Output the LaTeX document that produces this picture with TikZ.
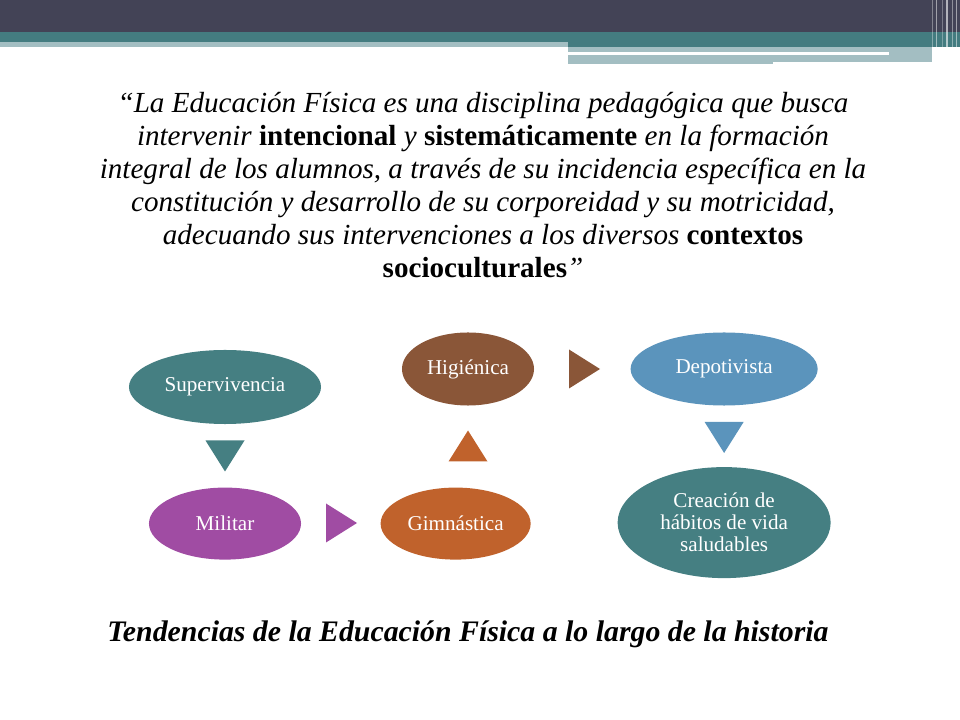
\documentclass[tikz,border=0pt]{standalone}
\usepackage{fontspec}
\setmainfont{Liberation Serif}
\usetikzlibrary{shapes.geometric,positioning}

\definecolor{banda}{HTML}{434356}
\definecolor{verdeazul}{HTML}{447C80}
\definecolor{grisclaro}{HTML}{A3BEC2}
\definecolor{cteal}{HTML}{457F82}
\definecolor{cpurpura}{HTML}{A04CA3}
\definecolor{cnaranja}{HTML}{C0622C}
\definecolor{cmarron}{HTML}{8A5638}
\definecolor{cazul}{HTML}{5B94BC}

\newcommand{\resalta}[1]{\textbf{\upshape #1}}

\tikzset{
	etapa/.style={ellipse, fill=#1, text=white, align=center, inner sep=0pt,
		font=\fontsize{15}{15.6}\selectfont},
}

\begin{document}
\begin{tikzpicture}[x=0.025cm, y=-0.025cm]
			\useasboundingbox (0,0) rectangle (960,720);
			
			\fill[banda] (0,0) rectangle (960,32);
			\fill[verdeazul] (0,32) rectangle (960,42);
			\fill[grisclaro] (0,42) rectangle (568,47);
			\fill[verdeazul] (568,42) rectangle (960,47);
			\fill[grisclaro] (568,47) rectangle (932,62);
			\fill[grisclaro] (568,62) rectangle (773,64);
			\fill[white] (568,52) rectangle (889,55);
			\draw[white, opacity=0.35, line width=0.5pt] (932,0)--(932,64);
			\draw[white, opacity=0.5, line width=0.8pt] (936.5,0)--(936.5,64);
			\draw[white, opacity=0.3, line width=0.5pt] (942,0)--(942,64);
			\draw[white, opacity=0.6, line width=1pt] (947,0)--(947,64);
			\draw[white, opacity=0.4, line width=0.5pt] (952.5,0)--(952.5,64);
			\draw[white, opacity=0.5, line width=0.8pt] (956.5,0)--(956.5,64);
			
			\node[align=center, font=\fontsize{20.7}{23.4}\selectfont\itshape] (cita) at (483,185) {%
				“La Educación Física es una disciplina pedagógica que busca\\
				intervenir \resalta{intencional} y \resalta{sistemáticamente} en la formación\\
				integral de los alumnos, a través de su incidencia específica en la\\
				constitución y desarrollo de su corporeidad y su motricidad,\\
				adecuando sus intervenciones a los diversos \resalta{contextos}\\
				\resalta{socioculturales}”};
			
			\node[etapa=cteal, minimum width=4.8cm, minimum height=1.85cm] (superv) at (225,387) {Supervivencia};
			\node[etapa=cpurpura, minimum width=3.8cm, minimum height=1.8cm, below=1.575cm of superv] (militar) {Militar};
			\node[etapa=cnaranja, minimum width=3.75cm, minimum height=1.8cm, right=1.975cm of militar] (gimn) {Gimnástica};
			\node[etapa=cmarron, minimum width=3.3cm, minimum height=1.825cm] (higien) at (468,369) {Higiénica};
			\node[etapa=cazul, minimum width=4.675cm, minimum height=1.825cm, right=2.4cm of higien] (deport) {Depotivista};
			\node[etapa=cteal, minimum width=5.325cm, minimum height=2.775cm, below=1.525cm of deport] (habitos) {Creación de\\hábitos de vida\\saludables};
			
			\coordinate (f1) at (superv.south |- 0,456);
			\coordinate (f2) at (341.5,523);
			\coordinate (f3) at (higien.south |- 0,446);
			\coordinate (f4) at (584.5,369);
			\coordinate (f5) at (deport.south |- 0,437.5);
			\fill[cteal] (f1) ++(-19.5,-15.5) -- ++(39,0) -- ++(-19.5,31) -- cycle;
			\fill[cpurpura] (f2) ++(-15.5,-19.5) -- ++(31,19.5) -- ++(-31,19.5) -- cycle;
			\fill[cnaranja] (f3) ++(-19.5,15.5) -- ++(39,0) -- ++(-19.5,-31) -- cycle;
			\fill[cmarron] (f4) ++(-15.5,-19.5) -- ++(31,19.5) -- ++(-31,19.5) -- cycle;
			\fill[cazul] (f5) ++(-19.5,-15.5) -- ++(39,0) -- ++(-19.5,31) -- cycle;
			
			\node[font=\fontsize{21.2}{24}\selectfont\bfseries\itshape] (titulo) at (468,634) {Tendencias de la Educación Física a lo largo de la historia};
		\end{tikzpicture}
\end{document}
